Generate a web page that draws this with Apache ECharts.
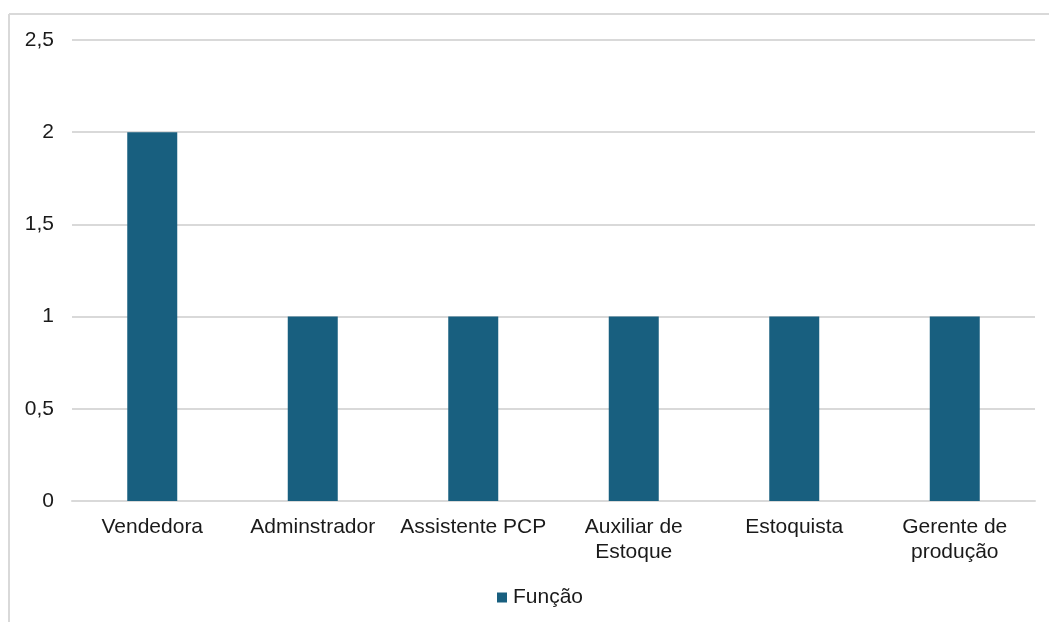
<!DOCTYPE html>
<html>
<head>
<meta charset="utf-8">
<script src="https://cdn.jsdelivr.net/npm/echarts@6/dist/echarts.min.js"></script>
<style>
html,body{margin:0;padding:0;background:#fff;}
#c{width:1049px;height:622px;}
</style>
</head>
<body>
<div id="c"></div>
<script>
const categories = ['Vendedora', 'Adminstrador', 'Assistente PCP', 'Auxiliar de\nEstoque', 'Estoquista', 'Gerente de\nprodução'];
const seriesName = 'Função';
const values = [2, 1, 1, 1, 1, 1];
const yMin = 0, yMax = 2.5, yStep = 0.5;

const chart = echarts.init(document.getElementById('c'));
const font = 'Liberation Sans, Arial, Helvetica, sans-serif';
chart.setOption({
  animation: false,
  textStyle: { fontFamily: font },
  graphic: [
    { type: 'line', shape: { x1: 9, y1: 14, x2: 1049, y2: 14 }, style: { stroke: '#d9d9d9', lineWidth: 2 } },
    { type: 'line', shape: { x1: 9, y1: 14, x2: 9, y2: 622 }, style: { stroke: '#d9d9d9', lineWidth: 2 } }
  ],
  grid: { left: 72, right: 14, top: 40, bottom: 121, containLabel: false },
  legend: {
    data: [seriesName],
    top: 582,
    left: 492,
    icon: 'rect',
    itemWidth: 10,
    itemHeight: 10,
    itemGap: 6,
    textStyle: { fontSize: 21, color: '#1a1a1a', fontFamily: font, padding: [0, 0, 0, 1] }
  },
  xAxis: {
    type: 'category',
    data: categories,
    axisLine: { show: true, lineStyle: { color: '#d9d9d9', width: 2 } },
    axisTick: { show: false },
    axisLabel: { color: '#1a1a1a', fontSize: 21, margin: 14, lineHeight: 25, interval: 0, fontFamily: font }
  },
  yAxis: {
    type: 'value',
    min: yMin, max: yMax, interval: yStep,
    axisLine: { show: false },
    axisTick: { show: false },
    splitLine: { lineStyle: { color: '#d9d9d9', width: 2 } },
    axisLabel: {
      color: '#1a1a1a', fontSize: 21, margin: 18, fontFamily: font,
      formatter: v => String(v).replace('.', ',')
    }
  },
  series: [{
    name: seriesName,
    type: 'bar',
    data: values,
    barWidth: 50,
    itemStyle: { color: '#185f7f' }
  }]
});
</script>
</body>
</html>
